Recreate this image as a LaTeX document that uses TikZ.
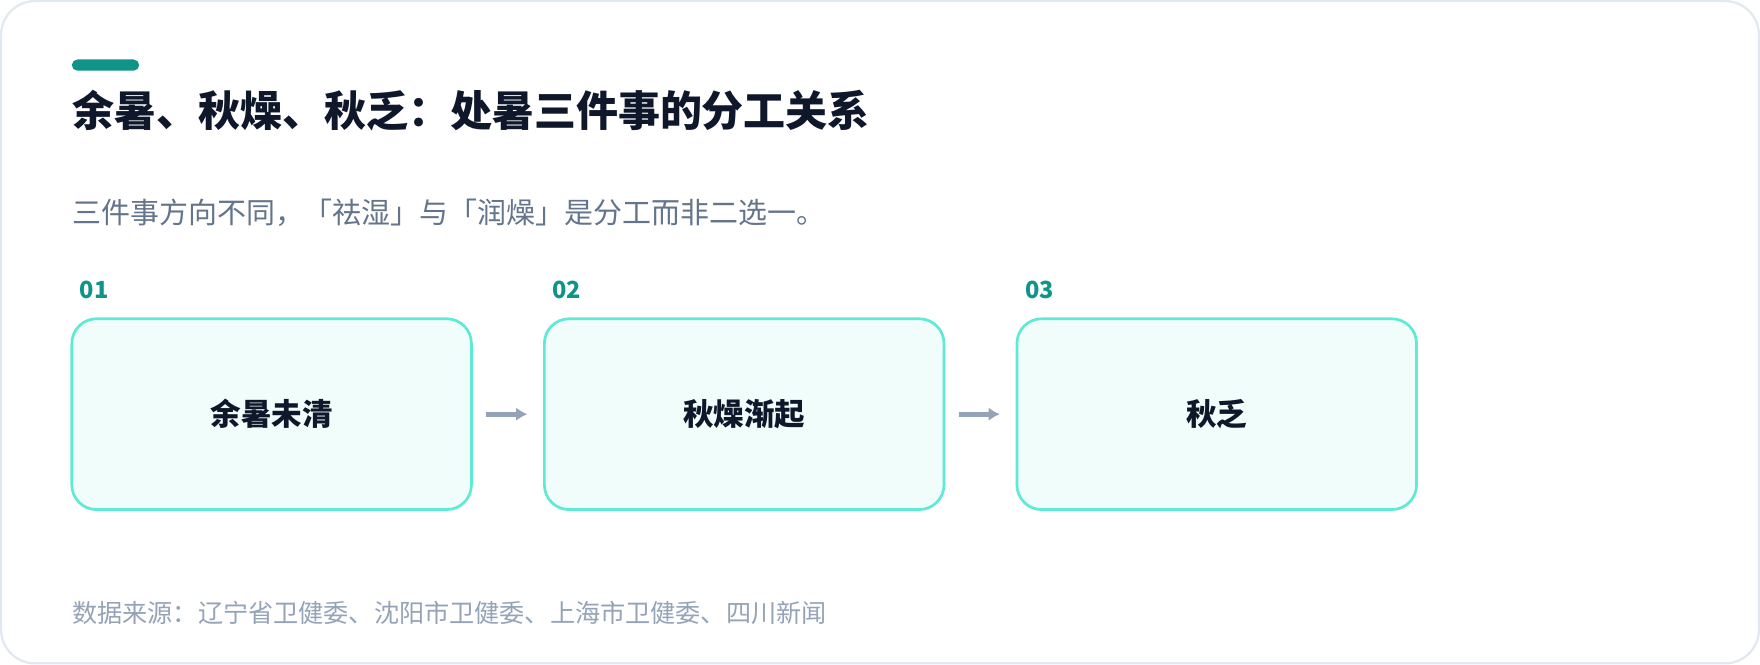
\documentclass[tikz,border=0pt]{standalone}
\usepackage{fontspec}
\setmainfont{Noto Sans CJK SC}
\usetikzlibrary{positioning,arrows.meta}
\definecolor{accent}{HTML}{0F9488}
\definecolor{ink}{HTML}{0F172A}
\definecolor{muted}{HTML}{64748B}
\definecolor{faint}{HTML}{94A3B8}
\definecolor{stepfill}{HTML}{F0FDFA}
\definecolor{stepline}{HTML}{5EEAD4}
\definecolor{frame}{HTML}{E2E8F0}
\tikzset{
  stepbox/.style={draw=stepline,line width=1.2pt,fill=stepfill,rounded corners=11pt,
    minimum width=178pt,minimum height=85pt,font=\fontsize{13.6}{16}\selectfont\bfseries,text=ink},
  stepnum/.style={font=\fontsize{10.5}{12}\selectfont\bfseries,text=accent,anchor=south west,inner sep=0pt},
  flow/.style={draw=faint,line width=2.2pt,-{Latex[length=5pt,width=6pt]}}
}
\begin{document}
\begin{tikzpicture}[x=0.5pt,y=-0.5pt]
    \useasboundingbox (0,0) rectangle (1568,592);
    \draw[frame,line width=1pt,fill=white,rounded corners=15pt] (1,1) rectangle (1567,591);
    \fill[accent,rounded corners=2.5pt] (64,53) rectangle (124,63);
    \node[anchor=west,inner sep=0pt,text=ink,font=\fontsize{18.7}{22}\selectfont\bfseries] (title) at (64,99)
        {余暑、秋燥、秋乏：处暑三件事的分工关系};
    \node[anchor=west,inner sep=0pt,text=muted,font=\fontsize{12.9}{15}\selectfont] (sub) at (64,190)
        {三件事方向不同，「祛湿」与「润燥」是分工而非二选一。};
    % steps
    \node[stepbox] (s1) at (242,369) {余暑未清};
    \node[stepbox,right=31.3pt of s1] (s2) {秋燥渐起};
    \node[stepbox,right=31.3pt of s2] (s3) {秋乏};
    \foreach \s/\n in {s1/01,s2/02,s3/03}
        \node[stepnum] at ([xshift=4pt,yshift=8pt]\s.north west) {\n};
    \draw[flow] ([xshift=6pt]s1.east) -- ([xshift=-7pt]s2.west);
    \draw[flow] ([xshift=6pt]s2.east) -- ([xshift=-7pt]s3.west);
    \node[anchor=west,inner sep=0pt,text=faint,font=\fontsize{11.2}{13}\selectfont] (src) at (64,546)
        {数据来源：辽宁省卫健委、沈阳市卫健委、上海市卫健委、四川新闻};
\end{tikzpicture}
\end{document}
